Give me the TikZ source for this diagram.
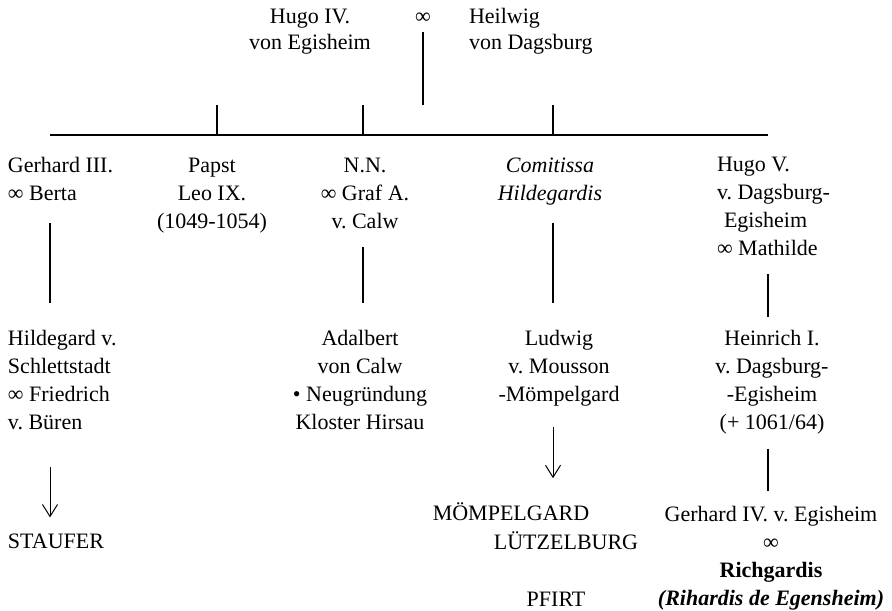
\documentclass[tikz,border=0pt]{standalone}
\usepackage{fontspec}
\setmainfont{Liberation Serif}
\usetikzlibrary{arrows.meta}
\frenchspacing
\tikzset{
  person/.style={inner sep=0, outer sep=0, align=center, anchor=base,
    font=\fontsize{11}{14}\selectfont},
  personl/.style={person, align=left, anchor=base west},
  couple/.style={font=\fontsize{11}{13}\selectfont},
  stem/.style={line width=1pt},
  descent/.style={-{Straight Barb[length=6pt,width=7.5pt]}, line width=0.5pt}
}
\begin{document}
\begin{tikzpicture}[x=0.5pt,y=-0.5pt]
\useasboundingbox (0,0) rectangle (892,610);

\node [person, couple] (hugo) at (310,50) {Hugo IV.\\von Egisheim};
\node [person] (inf) at (423,24) {∞};
\node [personl, couple] (heilwig) at (469,50) {Heilwig\\von Dagsburg};

\coordinate (bar) at (423,105);
\coordinate (d1) at (50,135);
\coordinate (d2) at (217,135);
\coordinate (d3) at (363,135);
\coordinate (d4) at (553,135);
\coordinate (d5) at (768,135);

\draw[stem, shorten <=4pt] (inf.south) -- (bar);
\draw[stem] (d1) |- (d5);
\foreach \drop in {d2,d3,d4} \draw[stem] (\drop) -- (\drop |- bar);

\node [personl] (gerhard) at (8,200) {Gerhard III.\\∞ Berta};
\node [person] (leo) at (212,228) {Papst\\Leo IX.\\(1049-1054)};
\node [person] (nn) at (365,228) {N.N.\\∞ Graf A.\\v. Calw};
\node [person, font=\fontsize{11}{14}\selectfont\itshape] (comitissa) at (550,200) {Comitissa\\Hildegardis};
\node [personl] (hugov) at (717,255) {Hugo V.\\v. Dagsburg-\\\hspace{3.5pt}Egisheim\\∞ Mathilde};

\node [personl] (hildegard) at (8,429) {Hildegard v.\\Schlettstadt\\∞ Friedrich\\v. Büren};
\node [person] (adalbert) at (360,429) {Adalbert\\von Calw\\• Neugründung\\Kloster Hirsau};
\node [person] (ludwig) at (559,401) {Ludwig\\v. Mousson\\-Mömpelgard};
\node [person] (heinrich) at (772,429) {Heinrich I.\\v. Dagsburg-\\-Egisheim\\(+ 1061/64)};

\draw[stem, shorten <=11.5pt, shorten >=13.5pt] (gerhard.south -| d1) -- (hildegard.north -| d1);
\draw[stem, shorten <=9.5pt, shorten >=13.5pt] (nn.south -| d3) -- (adalbert.north -| d3);
\draw[stem, shorten <=9pt, shorten >=13.5pt] (comitissa.south -| d4) -- (ludwig.north -| d4);
\draw[stem, shorten <=9.5pt, shorten >=6.5pt] (hugov.south -| d5) -- (heinrich.north -| d5);

\node [personl] (staufer) at (8,548) {STAUFER};
\node [person] (moempel) at (511,520) {MÖMPELGARD};
\node [person] (luetzel) at (566,549) {LÜTZELBURG};
\node [person] (pfirt) at (556,606) {PFIRT};
\node [person] (gerhardiv) at (771,605) {Gerhard IV. v. Egisheim\\∞\\\textbf{Richgardis}\\\textbf{\textit{(Rihardis de Egensheim)}}};

\draw[descent, shorten <=19pt, shorten >=8pt] (hildegard.south -| d1) -- (staufer.north -| d1);
\draw[descent, shorten <=10.5pt, shorten >=12pt] (ludwig.south -| d4) -- (moempel.north -| d4);
\draw[stem, shorten <=7.5pt, shorten >=7.5pt] (heinrich.south -| d5) -- (gerhardiv.north -| d5);

\end{tikzpicture}
\end{document}
